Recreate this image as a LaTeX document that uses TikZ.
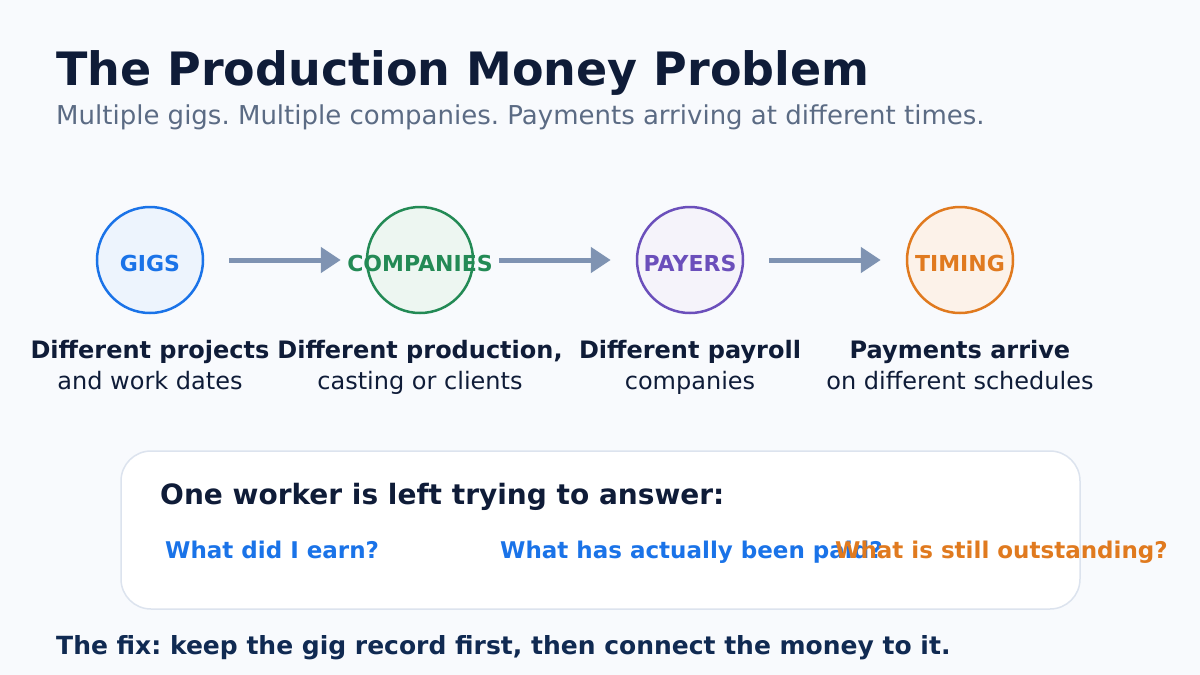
\documentclass[tikz,border=0pt]{standalone}
\usepackage{fontspec}
\setmainfont{DejaVu Sans}
\usetikzlibrary{arrows.meta}
\definecolor{bgc}{HTML}{F8FAFD}
\definecolor{navy}{HTML}{0F1C38}
\definecolor{fixnavy}{HTML}{102A52}
\definecolor{subgray}{HTML}{5B6B84}
\definecolor{arrowc}{HTML}{7F93B2}
\definecolor{gblue}{HTML}{1A73E8}
\definecolor{ggreen}{HTML}{238A55}
\definecolor{gpurple}{HTML}{6B4FBB}
\definecolor{gorange}{HTML}{E07A1F}
\definecolor{boxline}{HTML}{DCE3EE}
\newcommand{\fs}[1]{\fontsize{#1}{#1}\selectfont}
\frenchspacing
\begin{document}
\begin{tikzpicture}[x=1pt,y=-1pt,
	stage/.style={circle, draw=#1, line width=2.5pt, minimum size=106pt, inner sep=0pt},
	tag/.style={anchor=base, inner sep=0pt, text=#1, font=\bfseries\fs{22}},
	flow/.style={draw=arrowc, line width=5pt, shorten <=25pt, shorten >=25pt,
		-{Triangle[length=20pt,width=25pt]}},
	head/.style={anchor=base, inner sep=0pt, text=navy, font=\bfseries\fs{24}},
	sub/.style={anchor=base, inner sep=0pt, text=navy, font=\fs{24}},
	question/.style={anchor=base west, inner sep=0pt, font=\bfseries\fs{23}}]
		\fill[bgc] (0,0) rectangle (1200,675);
		\node[anchor=base west, text=navy, font=\bfseries\fs{46}, inner sep=0pt] (title) at (56,85) {The Production Money Problem};
		\node[anchor=base west, text=subgray, font=\fs{26}, inner sep=0pt] (subtitle) at (56,124) {Multiple gigs. Multiple companies. Payments arriving at different times.};
		% the four stages
		\node[stage=gblue, fill=gblue!8] (gigs) at (150,260) {};
		\node[stage=ggreen, fill=ggreen!8] (companies) at (420,260) {};
		\node[stage=gpurple, fill=gpurple!7] (payers) at (690,260) {};
		\node[stage=gorange, fill=gorange!10] (timing) at (960,260) {};
		\node[tag=gblue] (gigstag) at (150,271) {GIGS};
		\node[tag=ggreen] (companiestag) at (420,271) {COMPANIES};
		\node[tag=gpurple] (payerstag) at (690,271) {PAYERS};
		\node[tag=gorange] (timingtag) at (960,271) {TIMING};
		\draw[flow] (gigs) -- (companies);
		\draw[flow] (companies) -- (payers);
		\draw[flow] (payers) -- (timing);
		\node[head] (gigshead) at (150,358) {Different projects};
		\node[sub] (gigssub) at (150,389) {and work dates};
		\node[head] (companieshead) at (420,358) {Different production,};
		\node[sub] (companiessub) at (420,389) {casting or clients};
		\node[head] (payershead) at (690,358) {Different payroll};
		\node[sub] (payerssub) at (690,389) {companies};
		\node[head] (timinghead) at (960,358) {Payments arrive};
		\node[sub] (timingsub) at (960,389) {on different schedules};
		% the worker's questions
		\draw[boxline, fill=white, line width=1.5pt, rounded corners=30pt] (121,451) rectangle (1080,609);
		\node[anchor=base west, text=navy, font=\bfseries\fs{28}, inner sep=0pt] (asks) at (160,504) {One worker is left trying to answer:};
		\node[question, text=gblue] (earned) at (165,558) {What did I earn?};
		\node[question, text=gblue] (paid) at (500,558) {What has actually been paid?};
		\node[question, text=gorange] (owed) at (835,558) {What is still outstanding?};
		\node[anchor=base west, text=fixnavy, font=\bfseries\fs{25}, inner sep=0pt] (fix) at (56,654) {The fix: keep the gig record first, then connect the money to it.};
	\end{tikzpicture}
\end{document}
